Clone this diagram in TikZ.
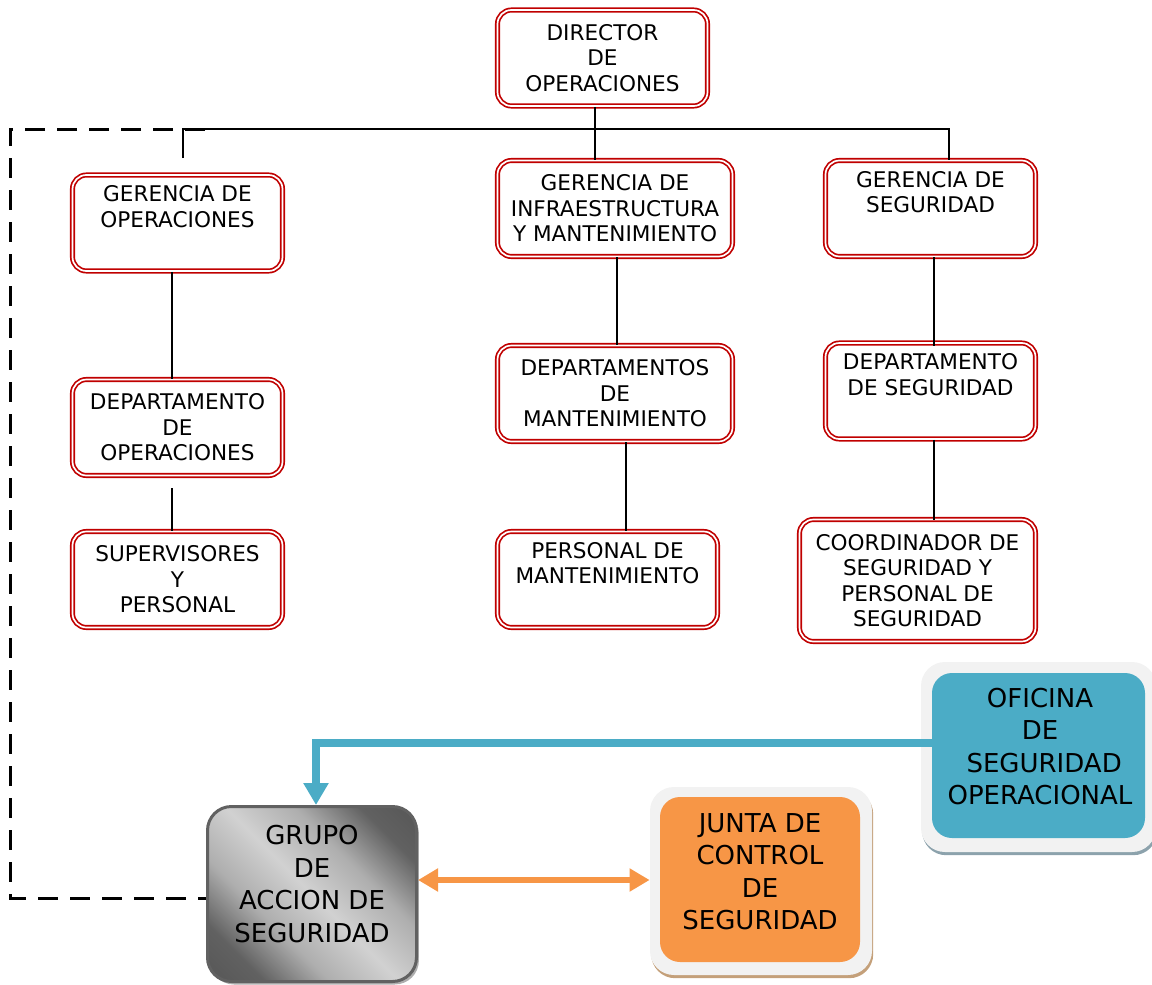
\documentclass[tikz,border=0pt]{standalone}
\usepackage{fontspec}
\setmainfont{DejaVu Sans}
\usetikzlibrary{arrows.meta,shadows}
\definecolor{rojo}{RGB}{192,0,0}
\definecolor{celeste}{RGB}{75,172,198}
\definecolor{naranja}{RGB}{247,150,70}
\definecolor{grisfondo}{RGB}{242,242,242}
\definecolor{sombracafe}{RGB}{196,160,122}
\definecolor{sombraazul}{RGB}{140,162,172}
\pgfdeclarehorizontalshading{grupogris}{100bp}{color(0bp)=(black!72); color(25bp)=(black!62); color(37bp)=(black!32); color(50bp)=(black!18); color(63bp)=(black!32); color(75bp)=(black!62); color(100bp)=(black!72)}
\tikzset{
	caja/.style={draw=rojo, double=white, line width=0.85pt, double distance=0.85pt, rounded corners=7pt, align=center, inner sep=2pt, minimum height=48pt, font=\fontsize{10.8}{12.75}\selectfont},
	conector/.style={draw=black, line width=1.4pt},
	rayas/.style={draw=black, line width=1.5pt, dash pattern=on 10pt off 6pt},
	textogrande/.style={align=center, inner sep=0pt, font=\fontsize{13}{16.25}\selectfont},
	fondo/.style={fill=grisfondo, rounded corners=12pt},
}
\begin{document}
\begin{tikzpicture}[x=0.5pt,y=-0.5pt,line join=miter]
	\useasboundingbox (0,0) rectangle (1152,985);
	% cajas del organigrama
	\node[caja, minimum width=105pt] (dir) at (602.5,58) {DIRECTOR\\DE\\OPERACIONES};
	\node[caja, minimum width=105pt] (gop) at (177.5,223) {GERENCIA DE\\OPERACIONES\\\strut};
	\node[caja, minimum width=117.5pt] (ginf) at (615,208.5) {GERENCIA DE\\INFRAESTRUCTURA\\Y MANTENIMIENTO};
	\node[caja, minimum width=105pt] (gseg) at (930.5,208.5) {GERENCIA DE\\SEGURIDAD\\\strut};
	\node[caja, minimum width=105pt] (dop) at (177.5,427.5) {DEPARTAMENTO\\DE\\OPERACIONES};
	\node[caja, minimum width=117.5pt] (dman) at (615,393.5) {DEPARTAMENTOS\\DE\\MANTENIMIENTO};
	\node[caja, minimum width=105pt] (dseg) at (930.5,391) {DEPARTAMENTO\\DE SEGURIDAD\\\strut};
	\node[caja, minimum width=105pt] (sup) at (177.5,579.5) {SUPERVISORES\\Y\\PERSONAL};
	\node[caja, minimum width=110pt] (pman) at (607.5,579.5) {PERSONAL DE\\MANTENIMIENTO\\\strut};
	\node[caja, minimum width=118pt, minimum height=61pt] (coord) at (917.5,580.5) {COORDINADOR DE\\SEGURIDAD Y\\PERSONAL DE\\SEGURIDAD};
	% grupos de abajo
	\node[shading=grupogris, shading angle=45, draw=black!62, line width=1.5pt, rounded corners=12pt, minimum width=104.5pt, minimum height=87.5pt, drop shadow={shadow xshift=1.2pt, shadow yshift=-1.5pt, fill=black!45, opacity=0.7}] (grupo) at (312,894) {};
	\node[textogrande] (grupotxt) at (312,884) {GRUPO\\DE\\ACCION DE\\SEGURIDAD};
	\node[fondo, minimum width=111pt, minimum height=94pt, drop shadow={shadow xshift=0.6pt, shadow yshift=-1.6pt, fill=sombracafe, opacity=1}] (juntafondo) at (761,881) {};
	\node[fill=naranja, rounded corners=10pt, minimum width=100pt, minimum height=82.5pt] (junta) at (760,879.5) {};
	\node[textogrande] (juntatxt) at (760,871.5) {JUNTA DE\\CONTROL\\DE\\SEGURIDAD};
	\node[fondo, minimum width=117.5pt, minimum height=95pt, drop shadow={shadow xshift=0.6pt, shadow yshift=-1.6pt, fill=sombraazul, opacity=1}] (ofifondo) at (1038.5,757) {};
	\node[fill=celeste, rounded corners=10pt, minimum width=106.5pt, minimum height=82.5pt] (ofi) at (1038.5,755.5) {};
	\node[textogrande] (ofitxt) at (1040,746.5) {OFICINA\\DE\\\ SEGURIDAD\\OPERACIONAL};
	% lineas
	\coordinate (busL) at (183,129);
	\coordinate (busM) at (595,129);
	\coordinate (busR) at (949,129);
	\coordinate (gopstub) at (183,158);
	\coordinate (supstub) at (172,488);
	\draw[conector] (gopstub) -- (busL) -- (busR) -- (busR |- gseg.north);
	\draw[conector] (dir.south -| busM) -- (ginf.north -| busM);
	\draw[conector] (gop.south -| 172,0) -- (dop.north -| 172,0);
	\draw[conector] (supstub) -- (sup.north -| 172,0);
	\draw[conector] (ginf.south -| 617,0) -- (dman.north -| 617,0);
	\draw[conector] (dman.south -| 626,0) -- (pman.north -| 626,0);
	\draw[conector] (gseg.south -| 934,0) -- (934,346);
	\draw[conector] (dseg.south -| 934,0) -- (934,520);
	\draw[rayas] (205,129) -- (10,129) -- (10,898) -- (grupo.west |- 0,898);
	\draw[celeste, line width=3.8pt, -{Triangle[width=12pt,length=11pt]}] (ofi.west |- 0,743) -- (316,743) -- (grupo.north -| 316,0);
	\draw[naranja, line width=3pt, {Triangle[width=11pt,length=10pt]}-{Triangle[width=11pt,length=10pt]}] (grupo.east |- 0,880) -- (juntafondo.west |- 0,880);
\end{tikzpicture}
\end{document}
